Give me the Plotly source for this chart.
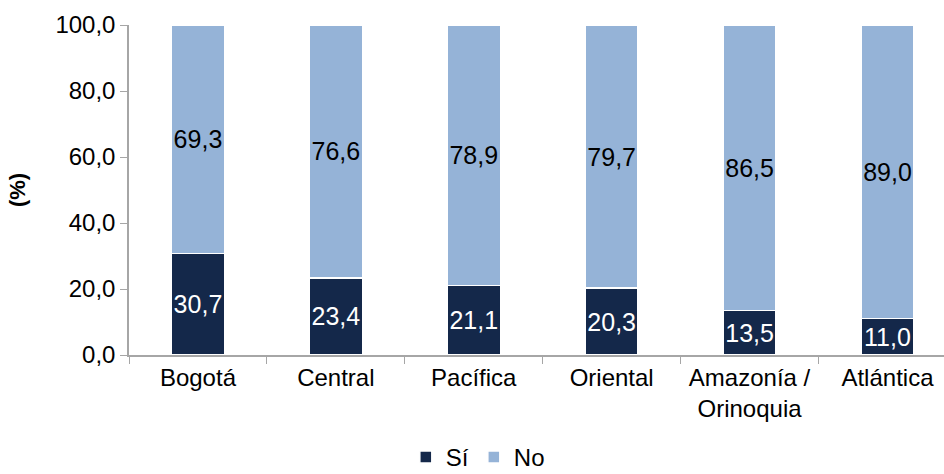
import plotly.graph_objects as go

regions = ["Bogotá", "Central", "Pacífica", "Oriental", "Amazonía /<br>Orinoquia", "Atlántica"]
si = [30.7, 23.4, 21.1, 20.3, 13.5, 11.0]
no = [69.3, 76.6, 78.9, 79.7, 86.5, 89.0]

fig = go.Figure()

fig.add_trace(
    go.Bar(
        x=regions,
        y=si,
        name="Sí",
        marker=dict(color="#14284a", line=dict(color="white", width=1.5)),
        texttemplate="%{y:.1f}",
        textposition="inside",
        insidetextanchor="middle",
        textangle=0,
        constraintext="none",
        textfont=dict(color="white", size=25),
    )
)
fig.add_trace(
    go.Bar(
        x=regions,
        y=no,
        name="No",
        marker=dict(color="#95b3d7", line=dict(color="white", width=1.5)),
        texttemplate="%{y:.1f}",
        textposition="inside",
        insidetextanchor="middle",
        textangle=0,
        constraintext="none",
        textfont=dict(color="black", size=25),
    )
)

fig.update_layout(
    barmode="stack",
    bargap=0.615,
    width=944,
    height=474,
    margin=dict(l=129, r=0, t=25, b=119, autoexpand=False),
    plot_bgcolor="white",
    paper_bgcolor="white",
    separators=",.",
    font=dict(family="Liberation Sans, Arial", size=24, color="black"),
    legend=dict(
        orientation="h",
        x=0.428,
        xanchor="center",
        y=-0.31,
        yanchor="middle",
        font=dict(size=24),
        itemwidth=30,
        traceorder="normal",
    ),
    xaxis=dict(
        range=[-0.5, 5.41],
        automargin=False,
        showline=True,
        linecolor="#a6a6a6",
        linewidth=1.5,
        ticks="outside",
        tickson="boundaries",
        ticklen=7,
        tickcolor="#a6a6a6",
        showgrid=False,
        tickfont=dict(size=24),
    ),
    yaxis=dict(
        range=[0, 100],
        automargin=False,
        dtick=20,
        tickformat=".1f",
        showline=True,
        linecolor="#a6a6a6",
        linewidth=1.5,
        ticks="outside",
        ticklen=7,
        tickcolor="#a6a6a6",
        showgrid=False,
        zeroline=False,
        tickfont=dict(size=24),
        title=dict(text="<b>(%)</b>", font=dict(size=22), standoff=24),
    ),
)

# page body has a default 8px margin; drop it so the figure fills the window
fig.write_html(
    "out.html",
    config={"displayModeBar": False},
    post_script="document.body.style.margin='0';",
)
